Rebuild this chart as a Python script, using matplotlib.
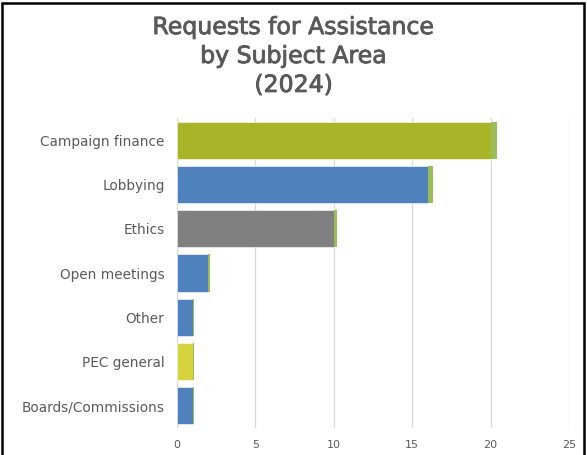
import matplotlib
matplotlib.use("Agg")
import matplotlib.pyplot as plt
import matplotlib.patheffects as pe
from matplotlib.patches import Rectangle

# data
categories = ["Campaign finance", "Lobbying", "Ethics", "Open meetings",
              "Other", "PEC general", "Boards/Commissions"]
requests = [20, 16, 10, 2, 1, 1, 1]
tip = [0.4, 0.3, 0.2, 0.08, 0.06, 0.06, 0.06]
bar_colors = ["#A8B529", "#4F81BD", "#808080", "#4F81BD",
              "#4F81BD", "#D4D33E", "#4F81BD"]
tip_color = "#9BBB59"
xticks = [0, 5, 10, 15, 20, 25]

plt.rcParams['font.family'] = ['DejaVu Sans']

fig = plt.figure(figsize=(5.87, 4.55), dpi=100)
ax = fig.add_axes([177/587, 1 - 428/455, (569-177)/587, (428-118)/455])

y = list(range(len(categories)))
ax.barh(y, requests, height=0.84, color=bar_colors, edgecolor="white", linewidth=0.4, zorder=3)
ax.barh(y, tip, left=requests, height=0.84, color=tip_color, edgecolor="none", zorder=3)

ax.set_ylim(len(categories) - 0.5, -0.5)
ax.set_xlim(0, 25)
ax.set_yticks(y)
ax.set_yticklabels(categories, fontsize=9.8, color="#595959")
ax.set_xticks(xticks)
ax.set_xticklabels([str(t) for t in xticks], fontsize=8, color="#595959")
ax.tick_params(axis="both", length=0)
ax.tick_params(axis="y", pad=9)
ax.tick_params(axis="x", pad=9)
ax.grid(axis="x", color="#D9D9D9", linewidth=0.9, zorder=0)
for s in ax.spines.values():
    s.set_visible(False)
ax.axvline(0, color="#D9D9D9", linewidth=0.9, zorder=1)

fig.text(0.5, 1 - 56/455, "Requests for Assistance\nby Subject Area\n(2024)",
         ha="center", va="center", fontsize=17, color="#595959",
         linespacing=1.26,
         path_effects=[pe.withStroke(linewidth=0.6, foreground="#595959")])

# outer frame (bottom edge is outside the image)
fig.patches.append(Rectangle((2/587, -0.05), 582/587, 1.05 - 3/455,
                             transform=fig.transFigure, fill=False,
                             edgecolor="black", linewidth=1.8))

fig.savefig("out.png", dpi=100)
